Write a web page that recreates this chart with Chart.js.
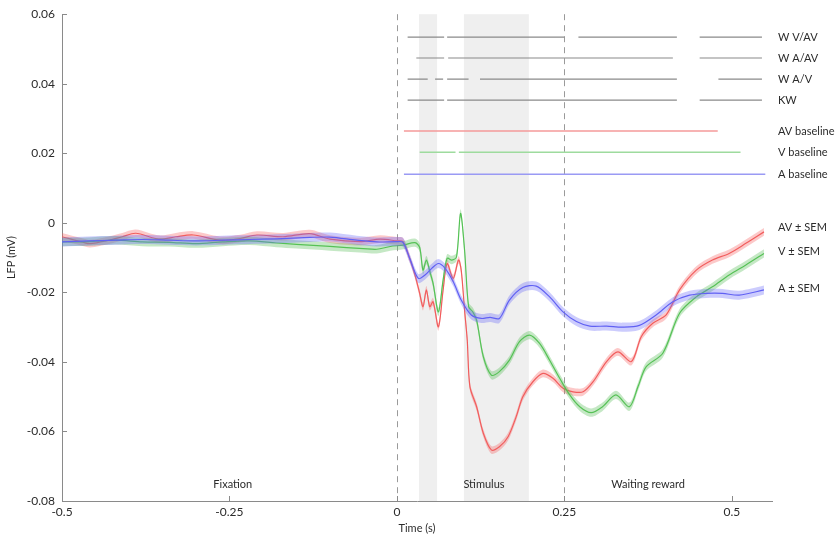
<!DOCTYPE html>
<html>
<head>
<meta charset="utf-8">
<script src="https://cdn.jsdelivr.net/npm/chart.js@4"></script>
<style>
  html, body { margin: 0; padding: 0; background: #fff; }
  #wrap { width: 839px; height: 537px; }
</style>
</head>
<body>
<div id="wrap"><canvas id="myChart" width="839" height="537"></canvas></div>
<script>
// Mean LFP traces (time in s, value in mV)
const avTime = [-0.5, -0.47, -0.458, -0.43, -0.41, -0.39, -0.355, -0.33, -0.304, -0.264, -0.234, -0.209, -0.17, -0.13, -0.1, -0.055, -0.025, 0, 0.009, 0.019, 0.027, 0.034, 0.039, 0.044, 0.049, 0.054, 0.062, 0.069, 0.075, 0.084, 0.092, 0.096, 0.101, 0.105, 0.109, 0.119, 0.129, 0.141, 0.153, 0.166, 0.178, 0.188, 0.203, 0.218, 0.233, 0.248, 0.263, 0.278, 0.293, 0.313, 0.33, 0.35, 0.365, 0.382, 0.402, 0.422, 0.447, 0.471, 0.496, 0.521, 0.548];
const avMean = [-0.004, -0.0055, -0.006, -0.005, -0.004, -0.003, -0.0047, -0.004, -0.0035, -0.005, -0.0045, -0.0035, -0.004, -0.0031, -0.0047, -0.0054, -0.0047, -0.0052, -0.0054, -0.0102, -0.015, -0.0203, -0.0241, -0.0193, -0.0241, -0.0227, -0.0299, -0.0193, -0.0117, -0.016, -0.0107, -0.0136, -0.0251, -0.0337, -0.0471, -0.0529, -0.0605, -0.0653, -0.0644, -0.0615, -0.0558, -0.05, -0.0457, -0.0433, -0.0447, -0.0476, -0.0486, -0.0486, -0.0457, -0.0399, -0.0371, -0.0399, -0.0327, -0.0289, -0.0265, -0.0193, -0.0136, -0.0107, -0.0088, -0.0059, -0.0026];
const avSem = 0.0011;

const vTime = [-0.5, -0.46, -0.42, -0.38, -0.34, -0.3, -0.26, -0.22, -0.18, -0.15, -0.1, -0.05, -0.03, -0.01, 0.01, 0.027, 0.034, 0.039, 0.044, 0.049, 0.054, 0.062, 0.069, 0.075, 0.082, 0.089, 0.095, 0.101, 0.107, 0.113, 0.119, 0.129, 0.141, 0.153, 0.168, 0.183, 0.198, 0.213, 0.228, 0.243, 0.258, 0.273, 0.29, 0.307, 0.327, 0.347, 0.36, 0.372, 0.397, 0.422, 0.447, 0.471, 0.496, 0.521, 0.548];
const vMean = [-0.0055, -0.0054, -0.005, -0.0055, -0.0056, -0.006, -0.0055, -0.0052, -0.0058, -0.0062, -0.0068, -0.0074, -0.0076, -0.0068, -0.0064, -0.0057, -0.0071, -0.0136, -0.0107, -0.0139, -0.0174, -0.0256, -0.0165, -0.0102, -0.0107, -0.0098, 0.0027, -0.0078, -0.0241, -0.0255, -0.028, -0.0385, -0.0438, -0.0428, -0.0395, -0.0342, -0.0323, -0.0347, -0.0395, -0.0447, -0.0495, -0.0529, -0.0546, -0.0529, -0.0495, -0.0529, -0.0471, -0.0414, -0.0375, -0.026, -0.0213, -0.0184, -0.015, -0.0121, -0.0088];
const vSem = 0.0012;

const aTime = [-0.5, -0.46, -0.42, -0.38, -0.34, -0.3, -0.26, -0.22, -0.18, -0.13, -0.1, -0.06, -0.03, 0, 0.009, 0.019, 0.032, 0.042, 0.052, 0.062, 0.072, 0.084, 0.096, 0.111, 0.126, 0.139, 0.153, 0.168, 0.188, 0.208, 0.228, 0.248, 0.268, 0.288, 0.313, 0.337, 0.362, 0.387, 0.412, 0.437, 0.462, 0.486, 0.511, 0.548];
const aMean = [-0.0055, -0.0052, -0.005, -0.0048, -0.005, -0.0052, -0.005, -0.0048, -0.0046, -0.0042, -0.0041, -0.005, -0.0055, -0.0054, -0.0056, -0.0102, -0.016, -0.015, -0.0131, -0.0117, -0.0131, -0.0169, -0.0222, -0.0265, -0.0275, -0.0272, -0.0275, -0.0222, -0.0186, -0.0182, -0.0213, -0.0256, -0.0284, -0.0297, -0.0297, -0.03, -0.0295, -0.0265, -0.0227, -0.0208, -0.0203, -0.0203, -0.0208, -0.0193];
const aSem = 0.0013;

// significance rows: label, level, segments [start, end] in s
const sigLabels = ['W V/AV', 'W A/AV', 'W A/V', 'KW'];
const sigLevels = [0.0534, 0.0474, 0.0413, 0.0353];
const sigSegments = [
  [[0.016, 0.0705], [0.075, 0.25], [0.271, 0.418], [0.452, 0.545]],
  [[0.029, 0.0705], [0.0765, 0.412], [0.452, 0.545]],
  [[0.016, 0.046], [0.057, 0.069], [0.075, 0.107], [0.124, 0.418], [0.48, 0.545]],
  [[0.016, 0.0705], [0.075, 0.418], [0.452, 0.545]]
];

const baseLabels = ['AV baseline', 'V baseline', 'A baseline'];
const baseLevels = [0.0264, 0.0203, 0.014];
const baseSegments = [
  [[0.0105, 0.479]],
  [[0.034, 0.0875], [0.0925, 0.513]],
  [[0.0105, 0.55]]
];

const traceLabels = ['AV \u00b1 SEM', 'V \u00b1 SEM', 'A \u00b1 SEM'];
const traceLabelLevels = [-0.0012, -0.0082, -0.019];

const stimBands = [[0.033, 0.06], [0.1, 0.197]];
const eventLines = [0, 0.25];
const epochLabels = ['Fixation', 'Stimulus', 'Waiting reward'];
const epochCenters = [-0.245, 0.13, 0.375];

const xTicks = [-0.5, -0.25, 0, 0.25, 0.5];
const yTicks = [0.06, 0.04, 0.02, 0, -0.02, -0.04, -0.06, -0.08];

const FONT = 'Lato, "Open Sans", sans-serif';
const TEXT = '#2b2b2b';

function pts(ts, ys, off) {
  return ts.map((t, i) => ({ x: t, y: ys[i] + off }));
}

function segPts(segs, level) {
  const out = [];
  segs.forEach(s => {
    out.push({ x: s[0], y: level }, { x: s[1], y: level }, { x: s[1], y: null });
  });
  return out;
}

const datasets = [];

function addTrace(ts, ys, sem, line, band) {
  datasets.push({ data: pts(ts, ys, sem), borderWidth: 0, pointRadius: 0, fill: '+1', backgroundColor: band, tension: 0.3 });
  datasets.push({ data: pts(ts, ys, -sem), borderWidth: 0, pointRadius: 0, fill: false, tension: 0.3 });
  datasets.push({ data: pts(ts, ys, 0), borderColor: line, borderWidth: 1.2, pointRadius: 0, fill: false, tension: 0.3 });
}

sigSegments.forEach((s, i) => {
  datasets.push({ data: segPts(s, sigLevels[i]), borderColor: '#8a8a8a', borderWidth: 1.2, pointRadius: 0, spanGaps: false });
});
const baseColors = ['#f49a9a', '#9edb9e', '#9a9af4'];
baseSegments.forEach((s, i) => {
  datasets.push({ data: segPts(s, baseLevels[i]), borderColor: baseColors[i], borderWidth: 1.5, pointRadius: 0, spanGaps: false });
});

addTrace(aTime, aMean, aSem, '#5a5af0', 'rgba(110,110,250,0.35)');
addTrace(vTime, vMean, vSem, '#55c455', 'rgba(90,190,90,0.35)');
addTrace(avTime, avMean, avSem, '#ef5a5a', 'rgba(245,100,100,0.35)');

const decor = {
  id: 'decor',
  beforeDatasetsDraw(chart) {
    const { ctx, chartArea: ca, scales: { x, y } } = chart;
    ctx.save();
    ctx.fillStyle = '#efefef';
    stimBands.forEach(b => {
      const x0 = x.getPixelForValue(b[0]), x1 = x.getPixelForValue(b[1]);
      ctx.fillRect(x0, ca.top, x1 - x0, ca.bottom - ca.top);
    });
    ctx.strokeStyle = '#9a9a9a';
    ctx.lineWidth = 1;
    ctx.setLineDash([6, 5]);
    eventLines.forEach(t => {
      const px = Math.round(x.getPixelForValue(t)) + 0.5;
      ctx.beginPath();
      ctx.moveTo(px, ca.top);
      ctx.lineTo(px, ca.bottom);
      ctx.stroke();
    });
    ctx.setLineDash([]);
    ctx.fillStyle = TEXT;
    ctx.font = '11px ' + FONT;
    ctx.textAlign = 'center';
    ctx.textBaseline = 'middle';
    epochLabels.forEach((l, i) => {
      ctx.fillText(l, x.getPixelForValue(epochCenters[i]), ca.bottom - 17);
    });
    ctx.restore();
  },
  afterDraw(chart) {
    const { ctx, chartArea: ca, scales: { x, y } } = chart;
    ctx.save();
    ctx.strokeStyle = '#8a8a8a';
    ctx.lineWidth = 1;
    yTicks.forEach(v => {
      const py = Math.round(y.getPixelForValue(v)) + 0.5;
      ctx.beginPath();
      ctx.moveTo(ca.left, py);
      ctx.lineTo(ca.left + 5, py);
      ctx.stroke();
    });
    xTicks.forEach(v => {
      const px = Math.round(x.getPixelForValue(v)) + 0.5;
      ctx.beginPath();
      ctx.moveTo(px, ca.bottom);
      ctx.lineTo(px, ca.bottom - 5);
      ctx.stroke();
    });
    ctx.fillStyle = TEXT;
    ctx.font = '11px ' + FONT;
    ctx.textAlign = 'left';
    ctx.textBaseline = 'middle';
    const tx = ca.right + 6;
    sigLabels.forEach((l, i) => ctx.fillText(l, tx, y.getPixelForValue(sigLevels[i])));
    baseLabels.forEach((l, i) => ctx.fillText(l, tx, y.getPixelForValue(baseLevels[i])));
    traceLabels.forEach((l, i) => ctx.fillText(l, tx, y.getPixelForValue(traceLabelLevels[i])));
    ctx.restore();
  }
};

function fmt(v) {
  const r = Math.round(v * 100) / 100;
  return r === 0 ? '0' : String(r);
}

new Chart(document.getElementById('myChart'), {
  type: 'line',
  data: { datasets: datasets },
  options: {
    responsive: false,
    animation: false,
    events: [],
    layout: { padding: { top: 14, right: 67, left: 0, bottom: 0 } },
    plugins: { legend: { display: false }, tooltip: { enabled: false } },
    scales: {
      x: {
        type: 'linear',
        min: -0.5,
        max: 0.56,
        grid: { display: false, drawTicks: false },
        border: { display: true, color: '#8a8a8a', width: 1 },
        ticks: {
          stepSize: 0.25,
          includeBounds: false,
          padding: 4,
          color: TEXT,
          font: { family: FONT, size: 12 },
          maxRotation: 0,
          callback: v => fmt(v)
        },
        title: { display: true, text: 'Time (s)', color: TEXT, font: { family: FONT, size: 11 }, padding: { top: 0, bottom: 2 } },
        afterFit: s => { s.height = 36; }
      },
      y: {
        min: -0.08,
        max: 0.06,
        grid: { display: false, drawTicks: false },
        border: { display: true, color: '#8a8a8a', width: 1 },
        ticks: {
          stepSize: 0.02,
          padding: 7,
          color: TEXT,
          font: { family: FONT, size: 12 },
          callback: v => fmt(v)
        },
        title: { display: true, text: 'LFP (mV)', color: TEXT, font: { family: FONT, size: 11 }, padding: { top: 5, bottom: 0 } },
        afterFit: s => { s.width = 62; }
      }
    }
  },
  plugins: [decor]
});
</script>
</body>
</html>
